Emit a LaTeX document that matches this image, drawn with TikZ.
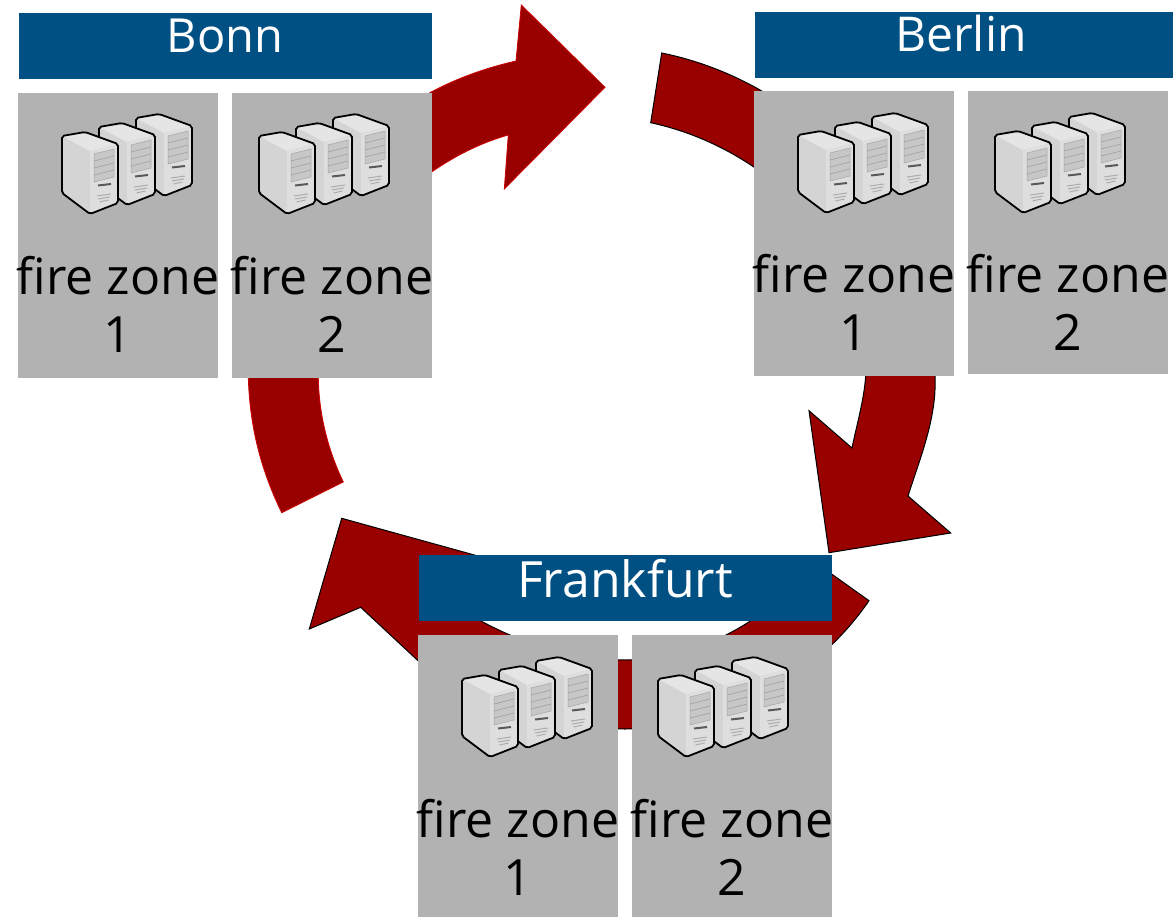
\documentclass[tikz,border=0pt]{standalone}
\usepackage{fontspec}
\setmainfont{Open Sans}
\usepackage{xcolor}
\definecolor{hdrblue}{HTML}{005083}
\definecolor{zonegray}{HTML}{B2B2B2}
\definecolor{ringred}{HTML}{990000}
\definecolor{edgered}{HTML}{CC0000}
\tikzset{
  zonebox/.style={fill=zonegray,minimum width=200pt,minimum height=285pt,inner sep=0pt,anchor=north west},
  zonetext/.style={inner sep=0pt,align=center,font=\fontsize{50}{58}\selectfont},
  cityhdr/.style={fill=hdrblue,minimum height=66pt,inner sep=0pt,anchor=north west},
  citylbl/.style={text=white,inner sep=0pt,anchor=base,font=\fontsize{#1}{50}\selectfont},
  ringblack/.style={fill=ringred,draw=black,line width=1pt,line join=miter},
  ringbright/.style={fill=ringred,draw=edgered,line width=.8pt},
  tower/.pic={
    \fill[black!17] (0,0) -- (23,-4) -- (56,8) -- (56,67) -- (28,78) -- (0,57) -- cycle;
    \fill[black!13] (28,15) -- (56,8) -- (56,67) -- (28,78) -- cycle;
    \fill[black!10] (0,0) -- (23,-4) -- (56,8) -- (28,15) -- cycle;
    \draw[black!35,fill=black!22,line width=.5pt] (32,18) -- (52,13) -- (52,41) -- (32,46) -- cycle;
    \foreach \y in {7,14,21} {\draw[black!38,line width=.6pt] (32,18+\y) -- (52,13+\y);}
    \draw[black!65,line width=2pt] (36,49.5) -- (49,48);
    \foreach \y/\d in {0/0,3/1,6/2.5} {\draw[black!32,line width=1pt] (35+\d,60+\y) -- (49-\d,58+\y);}
    \draw[line width=1.8pt,rounded corners=2pt] (0,0) -- (23,-4) -- (56,8) -- (56,67) -- (28,78) -- (0,57) -- cycle;
  },
  serverrack/.pic={
    \pic at (74,-18) {tower};
    \pic at (37,-9) {tower};
    \pic at (0,0) {tower};
  },
}
\begin{document}
\begin{tikzpicture}[x=1pt,y=-1pt]
\useasboundingbox (0,0) rectangle (1173,917);
% arrows first, boxes go on top
\draw[ringbright] (400,112) -- (430,92.7) .. controls (455,79) and (485,68) .. (516,61)
  -- (521.3,5) -- (605,87.3) -- (504.3,189) -- (508.3,135)
  .. controls (480,143) and (455,156) .. (432,171.7) -- (405,192) -- cycle;
\draw[ringblack] (661.7,53) .. controls (815.3,84.4) and (926.4,219.6) .. (935,376)
  .. controls (937,417) and (920.5,457) .. (908,496)
  -- (950.7,533) -- (829,552.7) -- (809,410.7) -- (852,448)
  .. controls (856.8,424.5) and (864,400) .. (865.7,376)
  .. controls (874.3,253.2) and (771,148.7) .. (650.7,122.7) -- cycle;
\draw[ringbright] (248.3,370) -- (248.3,378) .. controls (250,430) and (262,472) .. (281.7,512.7)
  -- (343.3,482) .. controls (328,450) and (319,415) .. (318.3,378) -- (318.3,370) -- cycle;
\draw[ringblack] (869,600.7) .. controls (815,680) and (720,729) .. (625,729)
  .. controls (545,729) and (470,705) .. (418.3,661) -- (360.7,607.3) -- (309.3,629)
  -- (341.7,518.3) -- (478,556) -- (450,603)
  .. controls (490,628) and (550,660) .. (625,660)
  .. controls (690,660) and (770,625) .. (812,560) -- cycle;
% Bonn
\node[cityhdr,minimum width=413pt] (bonnhdr) at (19,13) {};
\node[citylbl=47] (bonnlbl) at (225,53) {Bonn};
\node[zonebox] (bonna) at (18,93) {};
\node[zonebox] (bonnb) at (232,93) {};
\pic at (62,136) {serverrack};
\pic at (259,136) {serverrack};
\node[zonetext] (bonnatxt) at (118,304) {f{}ire zone\\1};
\node[zonetext] (bonnbtxt) at (332,304) {f{}ire zone\\2};
% Berlin
\node[cityhdr,minimum width=418pt] (berlinhdr) at (755,12) {};
\node[citylbl=48] (berlinlbl) at (961,52) {Berlin};
\node[zonebox] (berlina) at (754,91) {};
\node[zonebox,minimum height=283pt] (berlinb) at (968,91) {};
\pic at (798,135) {serverrack};
\pic at (995,135) {serverrack};
\node[zonetext] (berlinatxt) at (854,302) {f{}ire zone\\1};
\node[zonetext] (berlinbtxt) at (1068,302) {f{}ire zone\\2};
% Frankfurt
\node[cityhdr,minimum width=413pt] (frankhdr) at (419,555) {};
\node[citylbl=50] (franklbl) at (625,597) {Frankfurt};
\node[zonebox,minimum height=282pt] (franka) at (418,635) {};
\node[zonebox,minimum height=282pt] (frankb) at (632,635) {};
\pic at (462,679) {serverrack};
\pic at (658,679) {serverrack};
\node[zonetext] (frankatxt) at (518,847) {f{}ire zone\\1};
\node[zonetext] (frankbtxt) at (732,847) {f{}ire zone\\2};
\end{tikzpicture}
\end{document}
